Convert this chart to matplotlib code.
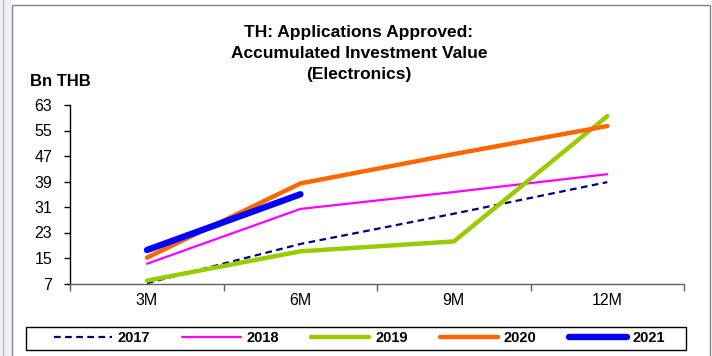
import matplotlib
matplotlib.use("Agg")
import matplotlib.pyplot as plt
from matplotlib.patches import Rectangle
from matplotlib.lines import Line2D

plt.rcParams['font.family'] = ['Liberation Sans', 'DejaVu Sans']

# Accumulated investment value by quarter-end, Bn THB
periods = ["3M", "6M", "9M", "12M"]
y2017 = [7.1, 19.4, 28.9, 38.8]
y2018 = [13.2, 30.4, 35.7, 41.3]
y2019 = [7.9, 17.1, 20.2, 59.5]
y2020 = [15.1, 38.4, 47.6, 56.4]
y2021 = [17.5, 35.0]
yticks = [7, 15, 23, 31, 39, 47, 55, 63]

series = [
    ("2017", y2017, "#000080", 1.6, (0, (3, 2))),
    ("2018", y2018, "#FF00FF", 1.6, "-"),
    ("2019", y2019, "#99CC00", 3.2, "-"),
    ("2020", y2020, "#FF6600", 3.2, "-"),
    ("2021", y2021, "#0000FF", 4.6, "-"),
]

W, H = 712, 356
fig = plt.figure(figsize=(W / 100, H / 100), dpi=100)
fig.patch.set_facecolor("white")

def fx(px):
    return px / W

def fy(py):
    return 1 - py / H

# page strip on the left and chart border
fig.add_artist(Rectangle((0, 0), fx(11), 1, transform=fig.transFigure,
                         facecolor="#EEEEF6", edgecolor="none", zorder=-2))
fig.add_artist(Line2D([fx(3), fx(3)], [0, 1], transform=fig.transFigure,
                      color="#B8B8C8", lw=1, zorder=-2))
fig.add_artist(Rectangle((fx(12), fy(400)), fx(710) - fx(12), fy(5) - fy(400),
                         transform=fig.transFigure, facecolor="white",
                         edgecolor="#808080", lw=1, zorder=-1))

left, right, top, bottom = 70.3, 684, 105, 283.5
ax = fig.add_axes([fx(left), fy(bottom), fx(right) - fx(left), fy(top) - fy(bottom)])
ax.set_facecolor("none")
ax.set_zorder(1)

x = list(range(len(periods)))
for name, vals, color, lw, ls in series:
    ax.plot(x[:len(vals)], vals, color=color, lw=lw, ls=ls,
            solid_capstyle="round", dash_capstyle="butt", label=name)

ax.set_xlim(-0.5, len(periods) - 0.5)
ax.set_ylim(yticks[0], yticks[-1])
ax.set_yticks(yticks)
ax.set_yticklabels([str(v) for v in yticks])
ax.set_xticks([i - 0.5 for i in range(len(periods) + 1)])
ax.set_xticklabels([])
ax.set_xticks(x, minor=True)
ax.set_xticklabels(periods, minor=True)

ax.tick_params(axis="y", direction="out", length=4, width=1, pad=9,
               labelsize=11.5, colors="black")
ax.tick_params(axis="x", which="major", direction="out", length=5, width=1,
               color="#606060")
ax.tick_params(axis="x", which="minor", length=0, pad=7, labelsize=11.5)

for s in ("top", "right"):
    ax.spines[s].set_visible(False)
ax.spines["left"].set_color("black")
ax.spines["bottom"].set_color("#606060")
ax.spines["left"].set_linewidth(1)
ax.spines["bottom"].set_linewidth(1)

# titles
fig.text(fx(359), fy(54), "TH: Applications Approved:\nAccumulated Investment Value\n(Electronics)",
         ha="center", va="center", fontsize=12.5, fontweight="bold",
         linespacing=1.5)
fig.text(fx(30), fy(82), "Bn THB", ha="left", va="center",
         fontsize=12, fontweight="bold")

# legend box
fig.add_artist(Rectangle((fx(26), fy(350)), fx(686) - fx(26), fy(327) - fy(350),
                         transform=fig.transFigure, facecolor="white",
                         edgecolor="black", lw=1, zorder=2))
handles, labels = ax.get_legend_handles_labels()
leg = fig.legend(handles, labels, loc="center", ncol=5,
                 bbox_to_anchor=(fx(359.5), fy(338.5)), frameon=False,
                 prop={"size": 10.5, "weight": "bold"}, handlelength=4.0,
                 handletextpad=0.4, columnspacing=2.2, borderpad=0)
leg.set_zorder(3)

fig.savefig("out.png", dpi=100)
